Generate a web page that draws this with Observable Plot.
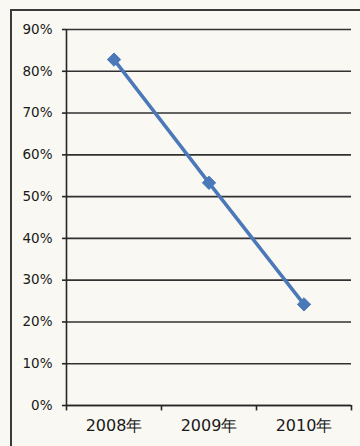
<!DOCTYPE html>
<html><head><meta charset="utf-8">
<script src="https://cdn.jsdelivr.net/npm/d3@7"></script>
<script src="https://cdn.jsdelivr.net/npm/@observablehq/plot@0.6"></script>
<style>
html,body{margin:0;padding:0;background:#f9f8f2;}
#wrap{position:relative;width:360px;height:446px;overflow:hidden;}
#frame{position:absolute;left:10px;top:9px;width:360px;height:460px;border:2px solid #3a3a3a;box-sizing:border-box;}
#chart{position:absolute;left:0;top:0;}
</style></head>
<body><div id="wrap"><div id="frame"></div><div id="chart"></div></div>
<script>
const years = ["2008年", "2009年", "2010年"];
const values = [0.828, 0.533, 0.242];
const yTicks = [0, 0.1, 0.2, 0.3, 0.4, 0.5, 0.6, 0.7, 0.8, 0.9];

const data = years.map((y, i) => ({pos: i + 0.5, year: y, value: values[i]}));
const bounds = d3.range(years.length + 1);

const chart = Plot.plot({
  width: 360, height: 446,
  marginLeft: 66, marginRight: 9, marginTop: 29, marginBottom: 41,
  style: {background: "transparent", fontFamily: "DejaVu Sans, sans-serif"},
  x: {type: "linear", domain: [0, years.length], label: null},
  y: {domain: [0, 0.9], label: null},
  marks: [
    Plot.gridY(yTicks, {stroke: "#262626", strokeOpacity: 0.95, strokeWidth: 1.6}),
    Plot.axisY(yTicks, {label: null, tickFormat: d3.format(".0%"), tickSize: 4, tickPadding: 10, fontSize: 13.5, fill: "#1a1a1a", stroke: "#262626", strokeWidth: 1.6}),
    Plot.ruleX([0], {stroke: "#262626", strokeWidth: 1.6}),
    Plot.ruleY([0], {stroke: "#262626", strokeWidth: 1.6}),
    Plot.ruleX(bounds, {x: d => d, y1: 0, y2: -0.013, stroke: "#262626", strokeWidth: 1.6}),
    Plot.axisX(data.map(d => d.pos), {label: null, tickSize: 0, tickPadding: 14, tickFormat: (d, i) => years[i], fontSize: 16, fill: "#1a1a1a", style: {letterSpacing: "1.5px"}}),
    Plot.line(data, {x: "pos", y: "value", stroke: "#4a78b9", strokeWidth: 3.5}),
    Plot.dot(data, {x: "pos", y: "value", symbol: "diamond2", r: 6, fill: "#4a78b9", stroke: "#4a78b9", strokeWidth: 1})
  ]
});
document.getElementById("chart").appendChild(chart);
</script></body></html>
